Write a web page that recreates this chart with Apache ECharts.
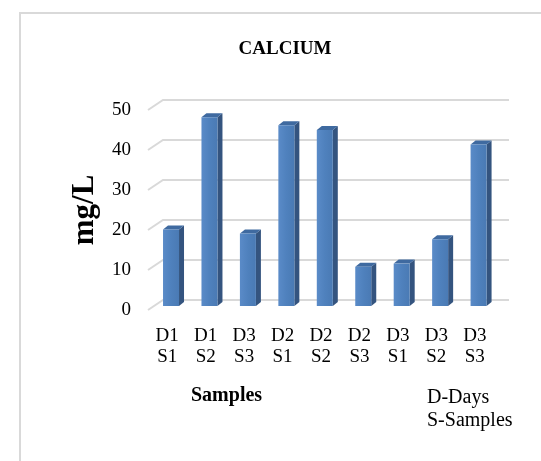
<!DOCTYPE html>
<html>
<head>
<meta charset="utf-8">
<script src="https://cdn.jsdelivr.net/npm/echarts@6/dist/echarts.min.js"></script>
<style>
html,body{margin:0;padding:0;background:#fff;}
#chart{width:541px;height:461px;}
</style>
</head>
<body>
<div id="chart"></div>
<script>
const categories = ['D1\nS1','D1\nS2','D3\nS3','D2\nS1','D2\nS2','D2\nS3','D3\nS1','D3\nS2','D3\nS3'];
const calcium = [19.1, 47.2, 18.1, 45.2, 44.0, 9.8, 10.6, 16.7, 40.4];
const yTicks = [0, 10, 20, 30, 40, 50];
const titleText = 'CALCIUM';
const yName = 'mg/L';
const xName = 'Samples';
const noteText = 'D-Days\nS-Samples';

const FONT = "'Liberation Serif','Times New Roman',serif";
const chart = echarts.init(document.getElementById('chart'));

const DEPTH_X = 15, DEPTH_Y = 10;   // floor depth (front -> back wall)
const MID_X = 3.8, MID_Y = 4;       // bars plane shift
const BAR_W = 16, BD_X = 5, BD_Y = 4; // bar width and bar depth

chart.setOption({
  animation: false,
  backgroundColor: '#fff',
  title: {
    text: titleText,
    left: 280, top: 35, textAlign: 'center',
    textStyle: {fontFamily: FONT, fontSize: 19, fontWeight: 'bold', color: '#000'}
  },
  graphic: [
    {type: 'rect', silent: true, z: -10,
     shape: {x: 20, y: 13, width: 700, height: 700},
     style: {fill: 'none', stroke: '#d9d9d9', lineWidth: 2}},
    {type: 'text', left: 191, top: 386,
     style: {text: xName, font: "bold 20px 'Liberation Serif', serif", fill: '#000'}},
    {type: 'text', left: 427, top: 386,
     style: {text: noteText, font: "20px 'Liberation Serif', serif", lineHeight: 23, fill: '#000'}}
  ],
  grid: {left: 148, top: 110, width: 346, height: 200},
  xAxis: {
    type: 'category', data: categories,
    axisLine: {show: false}, axisTick: {show: false},
    axisLabel: {fontFamily: FONT, fontSize: 19, color: '#000', lineHeight: 21, margin: 16, interval: 0}
  },
  yAxis: {
    type: 'value', min: 0, max: 50, interval: 10,
    name: yName, nameLocation: 'middle', nameGap: 48,
    nameTextStyle: {fontFamily: FONT, fontSize: 31, fontWeight: 'bold', color: '#000'},
    axisLine: {show: false}, axisTick: {show: false}, splitLine: {show: false},
    axisLabel: {fontFamily: FONT, fontSize: 19, color: '#000', margin: 17}
  },
  series: [
    {
      type: 'custom', z: 1, silent: true,
      data: yTicks.map(v => [0, v]),
      renderItem: function (params, api) {
        const cs = params.coordSys;
        const y = api.coord([0, api.value(1)])[1];
        const x0 = cs.x;
        return {
          type: 'polyline',
          shape: {points: [[x0, y], [x0 + DEPTH_X, y - DEPTH_Y], [x0 + cs.width + DEPTH_X, y - DEPTH_Y]]},
          style: {stroke: '#d9d9d9', lineWidth: 2, fill: 'none'}
        };
      }
    },
    {
      type: 'custom', z: 2, silent: true,
      data: calcium.map((v, i) => [i, v]),
      renderItem: function (params, api) {
        const base = api.coord([api.value(0), 0]);
        const top = api.coord([api.value(0), api.value(1)]);
        const cx = base[0] + MID_X;
        const yb = base[1] - MID_Y;
        const yt = top[1] - MID_Y;
        const l = cx - BAR_W / 2, r = cx + BAR_W / 2;
        return {
          type: 'group',
          children: [
            {type: 'polygon',
             shape: {points: [[r, yt], [r + BD_X, yt - BD_Y], [r + BD_X, yb - BD_Y], [r, yb]]},
             style: {fill: '#34547f'}},
            {type: 'polygon',
             shape: {points: [[l, yt], [l + BD_X, yt - BD_Y], [r + BD_X, yt - BD_Y], [r, yt]]},
             style: {fill: '#3f6aa0'}},
            {type: 'rect',
             shape: {x: l, y: yt, width: BAR_W, height: yb - yt},
             style: {fill: new echarts.graphic.LinearGradient(0, 0, 1, 0, [
               {offset: 0, color: '#5a8bc8'}, {offset: 0.5, color: '#4f81bd'}, {offset: 1, color: '#4a7ab4'}])}}
          ]
        };
      }
    }
  ]
});
</script>
</body>
</html>
